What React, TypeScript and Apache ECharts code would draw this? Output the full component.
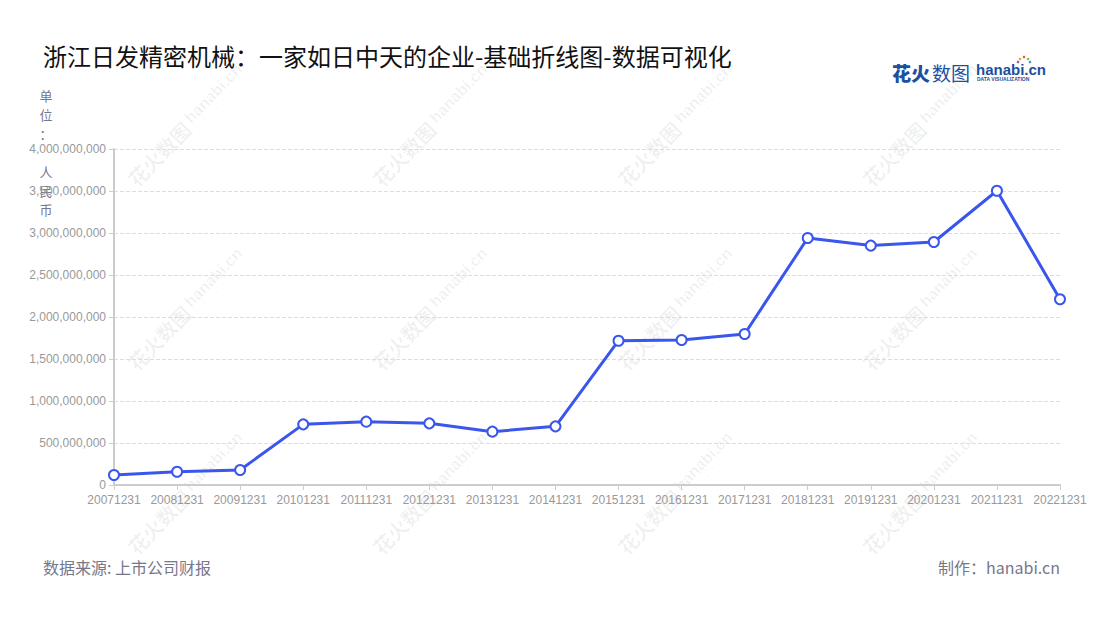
import React, { useRef, useEffect } from 'react';
import * as echarts from 'echarts';

const periods = [
  '20071231', '20081231', '20091231', '20101231', '20111231', '20121231',
  '20131231', '20141231', '20151231', '20161231', '20171231', '20181231',
  '20191231', '20201231', '20211231', '20221231',
];

const revenue = [
  119000000, 158000000, 179000000, 722000000, 754000000, 734000000,
  635000000, 698000000, 1718000000, 1726000000, 1798000000, 2940000000,
  2850000000, 2893000000, 3503000000, 2211000000,
];

const yTicks = { min: 0, max: 4000000000, interval: 500000000 };

const TITLE = '浙江日发精密机械：一家如日中天的企业-基础折线图-数据可视化';
const SOURCE = '数据来源: 上市公司财报';
const MAKER = '制作：hanabi.cn';
const UNIT = '单\n位\n：\n\n人\n民\n币';

const wmCols = [184, 429, 674, 919];
const wmRows = [128, 312, 496];

const CJK = '"Noto Sans CJK SC", "Liberation Sans", sans-serif';
const LATIN = '"Liberation Sans", "Noto Sans CJK SC", sans-serif';

// one diagonal watermark tile
const watermark = (cx: number, cy: number) => ({
  type: 'group',
  x: cx,
  y: cy,
  rotation: (46 * Math.PI) / 180,
  silent: true,
  z: 0,
  children: [
    {
      type: 'text',
      x: -76,
      y: 0,
      style: {
        text: '花火数图',
        fill: 'rgba(0,0,0,0.06)',
        font: `bold 20px ${CJK}`,
        verticalAlign: 'middle',
      },
    },
    {
      type: 'text',
      x: 8,
      y: -3,
      style: {
        text: 'hanabi.cn',
        fill: 'rgba(0,0,0,0.06)',
        font: `bold 16px ${LATIN}`,
        verticalAlign: 'middle',
      },
    },
    {
      type: 'text',
      x: 9,
      y: 9,
      style: {
        text: 'DATA VISUALIZATION',
        fill: 'rgba(0,0,0,0.05)',
        font: `5px ${LATIN}`,
        verticalAlign: 'middle',
      },
    },
  ],
});

const App: React.FC = () => {
  const chartRef = useRef<HTMLDivElement>(null);

  useEffect(() => {
    document.body.style.margin = '0';
    if (!chartRef.current) return;
    const chart = echarts.init(chartRef.current, undefined, { renderer: 'svg' });

    const marks: any[] = [];
    wmRows.forEach((y) => wmCols.forEach((x) => marks.push(watermark(x, y))));

    const dots = [
      ['#f5a623', 1020, 59], ['#e94e77', 1024, 57], ['#7ed321', 1028, 59],
      ['#4a90e2', 1030, 62], ['#9b59b6', 1018, 62],
    ];

    chart.setOption({
      animation: false,
      backgroundColor: '#fff',
      title: {
        text: TITLE,
        left: 38,
        top: 38,
        textStyle: { fontSize: 24, fontWeight: 'normal', color: '#111', fontFamily: CJK },
      },
      grid: { left: 114, right: 40, top: 149, bottom: 135, containLabel: false },
      xAxis: {
        type: 'category',
        data: periods,
        boundaryGap: false,
        axisLine: { lineStyle: { color: '#ccc', width: 2 } },
        axisTick: { show: true, lineStyle: { color: '#ccc' } },
        axisLabel: { color: '#999', fontSize: 12, fontFamily: LATIN, margin: 9, interval: 0 },
      },
      yAxis: {
        type: 'value',
        min: yTicks.min,
        max: yTicks.max,
        interval: yTicks.interval,
        axisLine: { show: true, lineStyle: { color: '#ccc', width: 2 } },
        axisTick: { show: true, length: 5, lineStyle: { color: '#ccc' } },
        axisLabel: {
          color: '#999',
          fontSize: 12,
          fontFamily: LATIN,
          margin: 8,
          formatter: (v: number) => v.toLocaleString('en-US'),
        },
        splitLine: { lineStyle: { color: '#ddd', type: 'dashed' } },
      },
      series: [
        {
          type: 'line',
          data: revenue,
          z: 5,
          symbol: 'circle',
          symbolSize: 10,
          itemStyle: { color: '#fff', borderColor: '#3a56ec', borderWidth: 2 },
          lineStyle: { color: '#3a56ec', width: 3 },
        },
      ],
      graphic: [
        ...marks,
        {
          type: 'text',
          x: 46,
          y: 86,
          silent: true,
          style: {
            text: UNIT,
            fill: '#77778a',
            font: `13px ${CJK}`,
            lineHeight: 19,
            align: 'center',
          },
        },
        {
          type: 'text',
          x: 43,
          y: 567,
          style: {
            text: SOURCE,
            fill: '#77778a',
            font: `16px ${CJK}`,
            verticalAlign: 'middle',
          },
        },
        {
          type: 'text',
          x: 1060,
          y: 567,
          style: {
            text: MAKER,
            fill: '#77778a',
            font: `16px ${CJK}`,
            align: 'right',
            verticalAlign: 'middle',
          },
        },
        {
          type: 'text',
          x: 892,
          y: 72,
          style: {
            text: '花火',
            fill: '#1d4f9f',
            font: `900 19px ${CJK}`,
            verticalAlign: 'middle',
          },
        },
        {
          type: 'text',
          x: 932,
          y: 72,
          style: {
            text: '数图',
            fill: '#1d4f9f',
            font: `19px ${CJK}`,
            verticalAlign: 'middle',
          },
        },
        {
          type: 'text',
          x: 976,
          y: 69,
          style: {
            text: 'hanabi.cn',
            fill: '#1d4f9f',
            font: `bold 15px ${LATIN}`,
            verticalAlign: 'middle',
          },
        },
        {
          type: 'text',
          x: 977,
          y: 79,
          style: {
            text: 'DATA VISUALIZATION',
            fill: '#1d4f9f',
            font: `bold 5px ${LATIN}`,
            verticalAlign: 'middle',
          },
        },
        ...dots.map(([c, x, y]) => ({
          type: 'circle',
          shape: { cx: x as number, cy: y as number, r: 1.3 },
          style: { fill: c as string },
        })),
      ],
    });

    return () => chart.dispose();
  }, []);

  return <div ref={chartRef} style={{ width: 1100, height: 620 }} />;
};

export default App;
